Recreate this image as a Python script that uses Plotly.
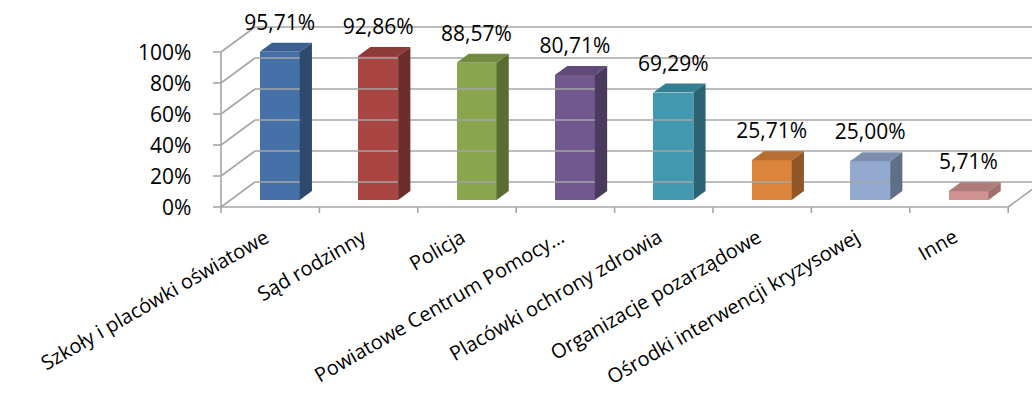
import plotly.graph_objects as go

# ---------------- data ----------------
categories = [
    "Szkoły i placówki oświatowe",
    "Sąd rodzinny",
    "Policja",
    "Powiatowe Centrum Pomocy…",
    "Placówki ochrony zdrowia",
    "Organizacje pozarządowe",
    "Ośrodki interwencji kryzysowej",
    "Inne",
]
values = [95.71, 92.86, 88.57, 80.71, 69.29, 25.71, 25.00, 5.71]
y_ticks = [0, 20, 40, 60, 80, 100]
y_tick_labels = ["0%", "20%", "40%", "60%", "80%", "100%"]

front_colors = ["#4671A8", "#A94644", "#89A54E", "#71588F", "#4198AF", "#DB843D", "#93A9CF", "#D19392"]
top_colors = ["#3B5F8E", "#8E3A38", "#738B41", "#5F4A78", "#367F93", "#B86F33", "#7B8EAE", "#AF7B7A"]
side_colors = ["#2E4A6F", "#6E2C2B", "#5A6C32", "#4A3A5E", "#2A6373", "#915727", "#606F88", "#A06F6E"]

# ---------------- geometry (pixel layout -> data units) ----------------
FIG_W, FIG_H = 1032, 398
PX0, PXU = 221.0, 98.4     # pixel of x=0, pixels per category
PY0, PYU = 207.0, 1.55     # pixel of value 0 on front plane, pixels per 1%
x_min, x_max = -PX0 / PXU, (FIG_W - PX0) / PXU
y_max, y_min = PY0 / PYU, (PY0 - FIG_H) / PYU

BX, BY = 34 / PXU, 25 / PYU      # depth offset of back wall
FX, FY = 0.28 * BX, 0.28 * BY    # bar front face depth
KX, KY = 0.64 * BX, 0.64 * BY    # bar back face depth
SX, SY = KX - FX, KY - FY
BW = 40 / PXU                    # bar width

GRID = "#A6A6A6"
FONT = "Open Sans"

fig = go.Figure()

def add_lines(segs, width=1.6, color=GRID):
    xs, ys = [], []
    for (xa, ya), (xb, yb) in segs:
        xs += [xa, xb, None]
        ys += [ya, yb, None]
    fig.add_trace(go.Scatter(x=xs, y=ys, mode="lines", line=dict(color=color, width=width),
                             hoverinfo="skip", showlegend=False))

# back wall gridlines
add_lines([((BX, t + BY), (x_max + 1, t + BY)) for t in y_ticks])
# left wall slanted gridlines
add_lines([((0, t), (BX, t + BY)) for t in y_ticks])
# front vertical axis + ticks
add_lines([((0, 0), (0, y_ticks[-1]))] + [((-8 / PXU, t), (0, t)) for t in y_ticks])
# floor front edge + right edge + category tick marks
n = len(categories)
add_lines([((0, 0), (n, 0)), ((n, 0), (n + BX, BY))] +
          [((k, 0), (k, -6 / PYU)) for k in range(n + 1)])

# bars: front faces
xc = [i + 0.5 + FX for i in range(n)]
fig.add_trace(go.Bar(x=xc, y=values, base=FY, width=BW, marker=dict(color=front_colors, line=dict(width=0)),
                     hoverinfo="skip", showlegend=False))

# bars: top and side faces
for i, v in enumerate(values):
    x0 = xc[i] - BW / 2
    x1 = xc[i] + BW / 2
    top = v + FY
    fig.add_trace(go.Scatter(x=[x0, x1, x1 + SX, x0 + SX, x0], y=[top, top, top + SY, top + SY, top],
                             fill="toself", fillcolor=top_colors[i], mode="lines", line=dict(width=0),
                             hoverinfo="skip", showlegend=False))
    fig.add_trace(go.Scatter(x=[x1, x1, x1 + SX, x1 + SX, x1], y=[FY, top, top + SY, FY + SY, FY],
                             fill="toself", fillcolor=side_colors[i], mode="lines", line=dict(width=0),
                             hoverinfo="skip", showlegend=False))

# value labels
fig.add_trace(go.Scatter(x=xc, y=[v + 22 for v in values], mode="text",
                         text=[f"{v:.2f}".replace(".", ",") + "%" for v in values],
                         textposition="middle center",
                         textfont=dict(family=FONT, size=21, color="#000000"),
                         hoverinfo="skip", showlegend=False))

annotations = []
for t, lab in zip(y_ticks, y_tick_labels):
    annotations.append(dict(x=-28 / PXU, y=t, xref="x", yref="y", text=lab, showarrow=False,
                            xanchor="right", yanchor="middle",
                            font=dict(family=FONT, size=21, color="#000000")))
for i, c in enumerate(categories):
    annotations.append(dict(x=i + 0.5 + 0.06, y=-13 / PYU, xref="x", yref="y", text=c, showarrow=False,
                            textangle=-30, xanchor="right", yanchor="top",
                            font=dict(family=FONT, size=20, color="#000000")))

fig.update_layout(
    width=FIG_W, height=FIG_H,
    margin=dict(l=0, r=0, t=0, b=0),
    paper_bgcolor="white", plot_bgcolor="white",
    xaxis=dict(range=[x_min, x_max], visible=False, fixedrange=True),
    yaxis=dict(range=[y_min, y_max], visible=False, fixedrange=True),
    annotations=annotations,
    bargap=0,
)

fig.write_html("out.html")
